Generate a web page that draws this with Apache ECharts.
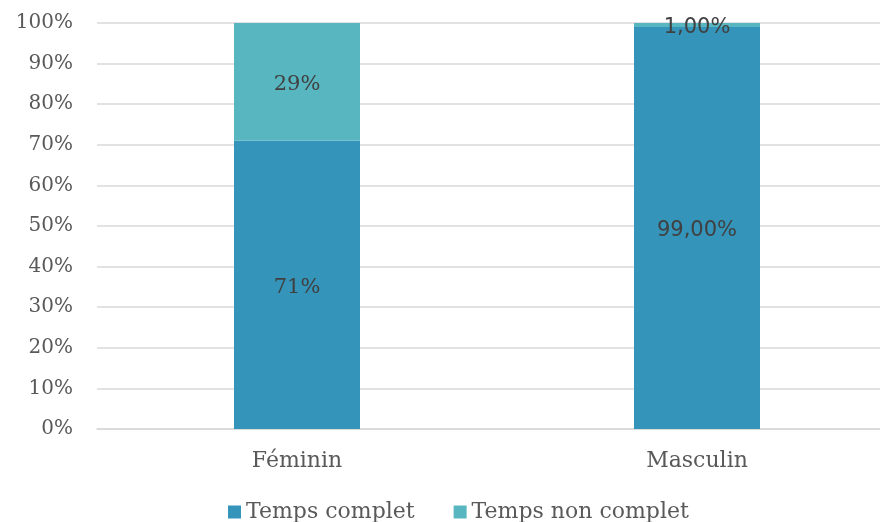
<!DOCTYPE html>
<html>
<head>
<meta charset="utf-8">
<script src="https://cdn.jsdelivr.net/npm/echarts@6/dist/echarts.min.js"></script>
<style>
  html, body { margin: 0; padding: 0; background: #ffffff; }
  #chart { width: 880px; height: 522px; }
</style>
</head>
<body>
<div id="chart"></div>
<script>
// Share of full-time vs part-time work by sex
const categories = ['Féminin', 'Masculin'];
const tempsComplet = [71, 99];
const tempsNonComplet = [29, 1];
const labelsComplet = ['71%', '99,00%'];
const labelsNonComplet = ['29%', '1,00%'];
const seriesNames = ['Temps complet', 'Temps non complet'];

const serif = '"DejaVu Serif", serif';
const sans = '"DejaVu Sans", sans-serif';
// Féminin labels are set in the slab face, Masculin labels in the sans face
const labelFonts = [serif, sans];

const chart = echarts.init(document.getElementById('chart'), null, { renderer: 'canvas' });

function makeData(values, labels) {
  return values.map((v, i) => ({
    value: v,
    label: { formatter: labels[i], fontFamily: labelFonts[i] }
  }));
}

const barLabel = { show: true, position: 'inside', offset: [0, 3], fontSize: 21, color: '#404040' };

chart.setOption({
  animation: false,
  backgroundColor: '#ffffff',
  // the plot area runs past the right edge of the canvas
  grid: { left: 97, right: -17, top: 23, bottom: 93, containLabel: false, outerBoundsMode: 'none' },
  legend: {
    bottom: -6,
    left: 223,
    itemWidth: 13,
    itemHeight: 13,
    itemGap: 39,
    icon: 'rect',
    textStyle: { fontFamily: serif, fontSize: 22, color: '#595959' },
    data: seriesNames
  },
  xAxis: {
    type: 'category',
    data: categories,
    axisLine: { lineStyle: { color: '#D9D9D9', width: 1.5 } },
    axisTick: { show: false },
    axisLabel: { fontFamily: serif, fontSize: 22, color: '#595959', margin: 21 }
  },
  yAxis: {
    type: 'value',
    min: 0,
    max: 100,
    interval: 10,
    axisLine: { show: false },
    axisTick: { show: false },
    splitLine: { lineStyle: { color: '#D9D9D9', width: 1.5 } },
    axisLabel: {
      fontFamily: serif, fontSize: 20, color: '#595959', margin: 24,
      padding: [4, 0, 0, 0],
      formatter: v => v + '%'
    }
  },
  series: [
    {
      name: seriesNames[0],
      type: 'bar',
      stack: 'total',
      barWidth: '31.5%',
      itemStyle: { color: '#3494BA' },
      label: barLabel,
      data: makeData(tempsComplet, labelsComplet)
    },
    {
      name: seriesNames[1],
      type: 'bar',
      stack: 'total',
      barWidth: '31.5%',
      itemStyle: { color: '#58B6C0' },
      label: barLabel,
      data: makeData(tempsNonComplet, labelsNonComplet)
    }
  ]
});
</script>
</body>
</html>
